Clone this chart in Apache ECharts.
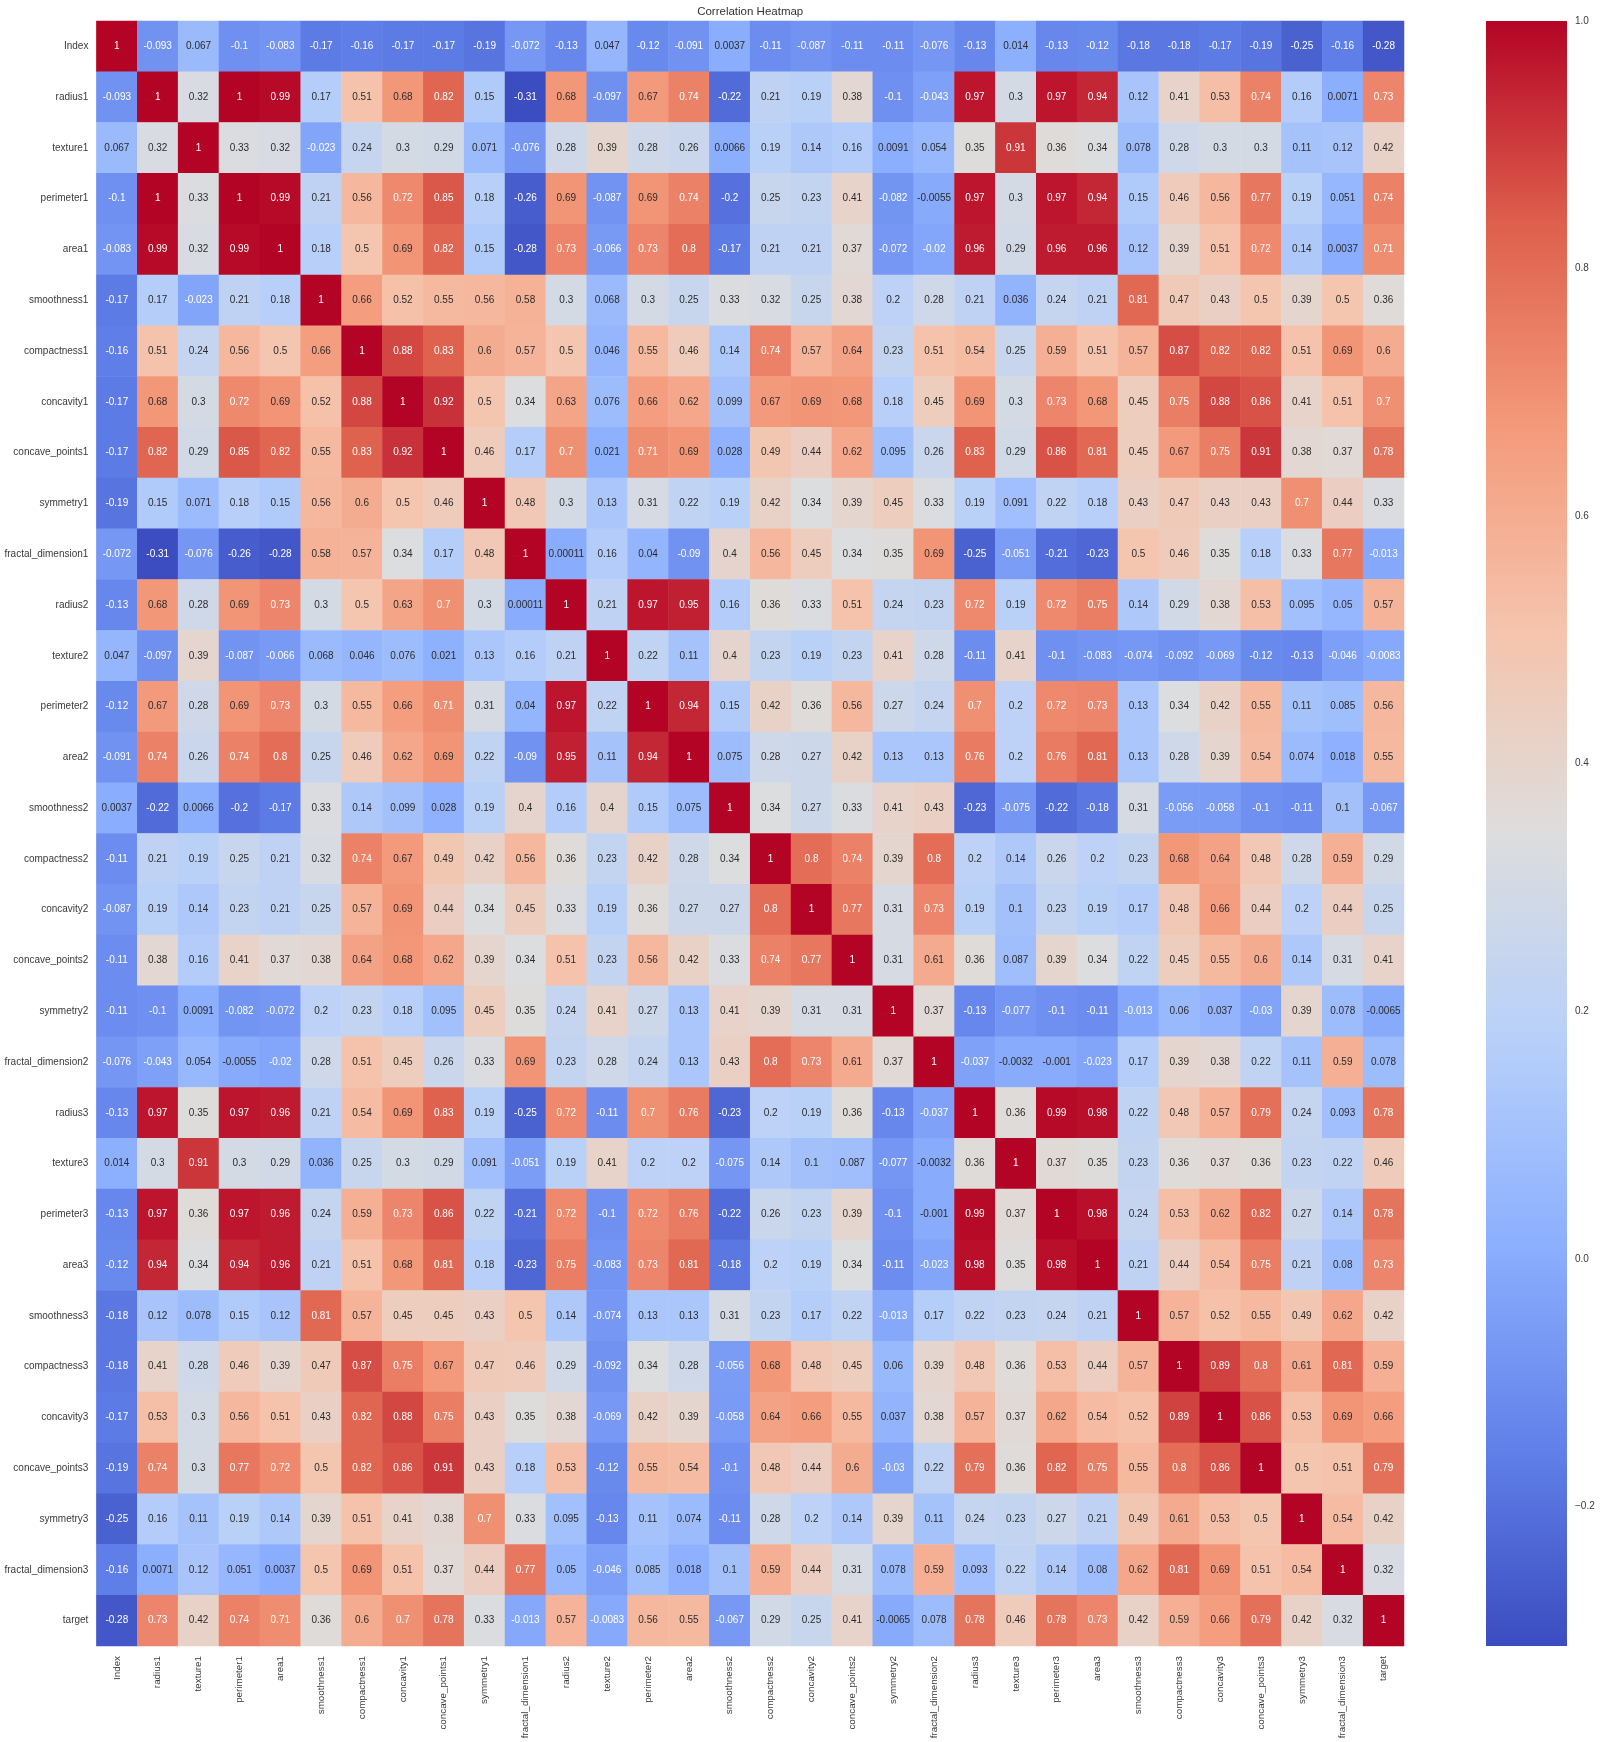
<!DOCTYPE html>
<html><head><meta charset="utf-8">
<script src="https://cdn.jsdelivr.net/npm/echarts@6/dist/echarts.min.js"></script>
<style>html,body{margin:0;padding:0;background:#fff}#c{width:1600px;height:1742px}</style>
</head><body><div id="c"></div>
<script>
const names=["Index","radius1","texture1","perimeter1","area1","smoothness1","compactness1","concavity1","concave_points1","symmetry1","fractal_dimension1","radius2","texture2","perimeter2","area2","smoothness2","compactness2","concavity2","concave_points2","symmetry2","fractal_dimension2","radius3","texture3","perimeter3","area3","smoothness3","compactness3","concavity3","concave_points3","symmetry3","fractal_dimension3","target"];
const rowIndex=[1,-0.093,0.067,-0.1,-0.083,-0.17,-0.16,-0.17,-0.17,-0.19,-0.072,-0.13,0.047,-0.12,-0.091,0.0037,-0.11,-0.087,-0.11,-0.11,-0.076,-0.13,0.014,-0.13,-0.12,-0.18,-0.18,-0.17,-0.19,-0.25,-0.16,-0.28];
const rowRadius1=[-0.093,1,0.32,1,0.99,0.17,0.51,0.68,0.82,0.15,-0.31,0.68,-0.097,0.67,0.74,-0.22,0.21,0.19,0.38,-0.1,-0.043,0.97,0.3,0.97,0.94,0.12,0.41,0.53,0.74,0.16,0.0071,0.73];
const rowTexture1=[0.067,0.32,1,0.33,0.32,-0.023,0.24,0.3,0.29,0.071,-0.076,0.28,0.39,0.28,0.26,0.0066,0.19,0.14,0.16,0.0091,0.054,0.35,0.91,0.36,0.34,0.078,0.28,0.3,0.3,0.11,0.12,0.42];
const rowPerimeter1=[-0.1,1,0.33,1,0.99,0.21,0.56,0.72,0.85,0.18,-0.26,0.69,-0.087,0.69,0.74,-0.2,0.25,0.23,0.41,-0.082,-0.0055,0.97,0.3,0.97,0.94,0.15,0.46,0.56,0.77,0.19,0.051,0.74];
const rowArea1=[-0.083,0.99,0.32,0.99,1,0.18,0.5,0.69,0.82,0.15,-0.28,0.73,-0.066,0.73,0.8,-0.17,0.21,0.21,0.37,-0.072,-0.02,0.96,0.29,0.96,0.96,0.12,0.39,0.51,0.72,0.14,0.0037,0.71];
const rowSmoothness1=[-0.17,0.17,-0.023,0.21,0.18,1,0.66,0.52,0.55,0.56,0.58,0.3,0.068,0.3,0.25,0.33,0.32,0.25,0.38,0.2,0.28,0.21,0.036,0.24,0.21,0.81,0.47,0.43,0.5,0.39,0.5,0.36];
const rowCompactness1=[-0.16,0.51,0.24,0.56,0.5,0.66,1,0.88,0.83,0.6,0.57,0.5,0.046,0.55,0.46,0.14,0.74,0.57,0.64,0.23,0.51,0.54,0.25,0.59,0.51,0.57,0.87,0.82,0.82,0.51,0.69,0.6];
const rowConcavity1=[-0.17,0.68,0.3,0.72,0.69,0.52,0.88,1,0.92,0.5,0.34,0.63,0.076,0.66,0.62,0.099,0.67,0.69,0.68,0.18,0.45,0.69,0.3,0.73,0.68,0.45,0.75,0.88,0.86,0.41,0.51,0.7];
const rowConcavePoints1=[-0.17,0.82,0.29,0.85,0.82,0.55,0.83,0.92,1,0.46,0.17,0.7,0.021,0.71,0.69,0.028,0.49,0.44,0.62,0.095,0.26,0.83,0.29,0.86,0.81,0.45,0.67,0.75,0.91,0.38,0.37,0.78];
const rowSymmetry1=[-0.19,0.15,0.071,0.18,0.15,0.56,0.6,0.5,0.46,1,0.48,0.3,0.13,0.31,0.22,0.19,0.42,0.34,0.39,0.45,0.33,0.19,0.091,0.22,0.18,0.43,0.47,0.43,0.43,0.7,0.44,0.33];
const rowFractal1=[-0.072,-0.31,-0.076,-0.26,-0.28,0.58,0.57,0.34,0.17,0.48,1,0.00011,0.16,0.04,-0.09,0.4,0.56,0.45,0.34,0.35,0.69,-0.25,-0.051,-0.21,-0.23,0.5,0.46,0.35,0.18,0.33,0.77,-0.013];
const rowRadius2=[-0.13,0.68,0.28,0.69,0.73,0.3,0.5,0.63,0.7,0.3,0.00011,1,0.21,0.97,0.95,0.16,0.36,0.33,0.51,0.24,0.23,0.72,0.19,0.72,0.75,0.14,0.29,0.38,0.53,0.095,0.05,0.57];
const rowTexture2=[0.047,-0.097,0.39,-0.087,-0.066,0.068,0.046,0.076,0.021,0.13,0.16,0.21,1,0.22,0.11,0.4,0.23,0.19,0.23,0.41,0.28,-0.11,0.41,-0.1,-0.083,-0.074,-0.092,-0.069,-0.12,-0.13,-0.046,-0.0083];
const rowPerimeter2=[-0.12,0.67,0.28,0.69,0.73,0.3,0.55,0.66,0.71,0.31,0.04,0.97,0.22,1,0.94,0.15,0.42,0.36,0.56,0.27,0.24,0.7,0.2,0.72,0.73,0.13,0.34,0.42,0.55,0.11,0.085,0.56];
const rowArea2=[-0.091,0.74,0.26,0.74,0.8,0.25,0.46,0.62,0.69,0.22,-0.09,0.95,0.11,0.94,1,0.075,0.28,0.27,0.42,0.13,0.13,0.76,0.2,0.76,0.81,0.13,0.28,0.39,0.54,0.074,0.018,0.55];
const rowSmoothness2=[0.0037,-0.22,0.0066,-0.2,-0.17,0.33,0.14,0.099,0.028,0.19,0.4,0.16,0.4,0.15,0.075,1,0.34,0.27,0.33,0.41,0.43,-0.23,-0.075,-0.22,-0.18,0.31,-0.056,-0.058,-0.1,-0.11,0.1,-0.067];
const rowCompactness2=[-0.11,0.21,0.19,0.25,0.21,0.32,0.74,0.67,0.49,0.42,0.56,0.36,0.23,0.42,0.28,0.34,1,0.8,0.74,0.39,0.8,0.2,0.14,0.26,0.2,0.23,0.68,0.64,0.48,0.28,0.59,0.29];
const rowConcavity2=[-0.087,0.19,0.14,0.23,0.21,0.25,0.57,0.69,0.44,0.34,0.45,0.33,0.19,0.36,0.27,0.27,0.8,1,0.77,0.31,0.73,0.19,0.1,0.23,0.19,0.17,0.48,0.66,0.44,0.2,0.44,0.25];
const rowConcavePoints2=[-0.11,0.38,0.16,0.41,0.37,0.38,0.64,0.68,0.62,0.39,0.34,0.51,0.23,0.56,0.42,0.33,0.74,0.77,1,0.31,0.61,0.36,0.087,0.39,0.34,0.22,0.45,0.55,0.6,0.14,0.31,0.41];
const rowSymmetry2=[-0.11,-0.1,0.0091,-0.082,-0.072,0.2,0.23,0.18,0.095,0.45,0.35,0.24,0.41,0.27,0.13,0.41,0.39,0.31,0.31,1,0.37,-0.13,-0.077,-0.1,-0.11,-0.013,0.06,0.037,-0.03,0.39,0.078,-0.0065];
const rowFractal2=[-0.076,-0.043,0.054,-0.0055,-0.02,0.28,0.51,0.45,0.26,0.33,0.69,0.23,0.28,0.24,0.13,0.43,0.8,0.73,0.61,0.37,1,-0.037,-0.0032,-0.001,-0.023,0.17,0.39,0.38,0.22,0.11,0.59,0.078];
const rowRadius3=[-0.13,0.97,0.35,0.97,0.96,0.21,0.54,0.69,0.83,0.19,-0.25,0.72,-0.11,0.7,0.76,-0.23,0.2,0.19,0.36,-0.13,-0.037,1,0.36,0.99,0.98,0.22,0.48,0.57,0.79,0.24,0.093,0.78];
const rowTexture3=[0.014,0.3,0.91,0.3,0.29,0.036,0.25,0.3,0.29,0.091,-0.051,0.19,0.41,0.2,0.2,-0.075,0.14,0.1,0.087,-0.077,-0.0032,0.36,1,0.37,0.35,0.23,0.36,0.37,0.36,0.23,0.22,0.46];
const rowPerimeter3=[-0.13,0.97,0.36,0.97,0.96,0.24,0.59,0.73,0.86,0.22,-0.21,0.72,-0.1,0.72,0.76,-0.22,0.26,0.23,0.39,-0.1,-0.001,0.99,0.37,1,0.98,0.24,0.53,0.62,0.82,0.27,0.14,0.78];
const rowArea3=[-0.12,0.94,0.34,0.94,0.96,0.21,0.51,0.68,0.81,0.18,-0.23,0.75,-0.083,0.73,0.81,-0.18,0.2,0.19,0.34,-0.11,-0.023,0.98,0.35,0.98,1,0.21,0.44,0.54,0.75,0.21,0.08,0.73];
const rowSmoothness3=[-0.18,0.12,0.078,0.15,0.12,0.81,0.57,0.45,0.45,0.43,0.5,0.14,-0.074,0.13,0.13,0.31,0.23,0.17,0.22,-0.013,0.17,0.22,0.23,0.24,0.21,1,0.57,0.52,0.55,0.49,0.62,0.42];
const rowCompactness3=[-0.18,0.41,0.28,0.46,0.39,0.47,0.87,0.75,0.67,0.47,0.46,0.29,-0.092,0.34,0.28,-0.056,0.68,0.48,0.45,0.06,0.39,0.48,0.36,0.53,0.44,0.57,1,0.89,0.8,0.61,0.81,0.59];
const rowConcavity3=[-0.17,0.53,0.3,0.56,0.51,0.43,0.82,0.88,0.75,0.43,0.35,0.38,-0.069,0.42,0.39,-0.058,0.64,0.66,0.55,0.037,0.38,0.57,0.37,0.62,0.54,0.52,0.89,1,0.86,0.53,0.69,0.66];
const rowConcavePoints3=[-0.19,0.74,0.3,0.77,0.72,0.5,0.82,0.86,0.91,0.43,0.18,0.53,-0.12,0.55,0.54,-0.1,0.48,0.44,0.6,-0.03,0.22,0.79,0.36,0.82,0.75,0.55,0.8,0.86,1,0.5,0.51,0.79];
const rowSymmetry3=[-0.25,0.16,0.11,0.19,0.14,0.39,0.51,0.41,0.38,0.7,0.33,0.095,-0.13,0.11,0.074,-0.11,0.28,0.2,0.14,0.39,0.11,0.24,0.23,0.27,0.21,0.49,0.61,0.53,0.5,1,0.54,0.42];
const rowFractal3=[-0.16,0.0071,0.12,0.051,0.0037,0.5,0.69,0.51,0.37,0.44,0.77,0.05,-0.046,0.085,0.018,0.1,0.59,0.44,0.31,0.078,0.59,0.093,0.22,0.14,0.08,0.62,0.81,0.69,0.51,0.54,1,0.32];
const rowTarget=[-0.28,0.73,0.42,0.74,0.71,0.36,0.6,0.7,0.78,0.33,-0.013,0.57,-0.0083,0.56,0.55,-0.067,0.29,0.25,0.41,-0.0065,0.078,0.78,0.46,0.78,0.73,0.42,0.59,0.66,0.79,0.42,0.32,1];
const colorTicks=[-0.2,0,0.2,0.4,0.6,0.8,1];
const vMin=-0.3127, vMax=1;
const matrix=[rowIndex,rowRadius1,rowTexture1,rowPerimeter1,rowArea1,rowSmoothness1,rowCompactness1,rowConcavity1,rowConcavePoints1,rowSymmetry1,rowFractal1,rowRadius2,rowTexture2,rowPerimeter2,rowArea2,rowSmoothness2,rowCompactness2,rowConcavity2,rowConcavePoints2,rowSymmetry2,rowFractal2,rowRadius3,rowTexture3,rowPerimeter3,rowArea3,rowSmoothness3,rowCompactness3,rowConcavity3,rowConcavePoints3,rowSymmetry3,rowFractal3,rowTarget];

const stops=[[59,76,192],[98,130,234],[141,176,254],[184,208,249],[221,221,221],[245,196,173],[244,154,123],[222,96,77],[180,4,38]];
const cmap=stops.map(c=>`rgb(${c.join(',')})`);
function lum(v){
  const p=Math.max(0,Math.min(1,(v-vMin)/(vMax-vMin)))*(stops.length-1);
  const i=Math.min(stops.length-2,Math.floor(p)),t=p-i;
  const rgb=stops[i].map((a,k)=>(a+(stops[i+1][k]-a)*t)/255);
  const lin=rgb.map(c=>c<=0.03928?c/12.92:Math.pow((c+0.055)/1.055,2.4));
  return 0.2126*lin[0]+0.7152*lin[1]+0.0722*lin[2];
}
const data=[];
matrix.forEach((row,y)=>row.forEach((v,x)=>{
  data.push({value:[x,y,v],label:{color:lum(v)>0.408?'#2b2b2b':'#ffffff'}});
}));
const G={l:96.4,t:21,w:1307.6,h:1625};
const sans='"Liberation Sans",Arial,sans-serif';
const chart=echarts.init(document.getElementById('c'),null,{renderer:'canvas',width:1600,height:1742});
chart.setOption({
  animation:false,
  backgroundColor:'#ffffff',
  title:{text:'Correlation Heatmap',left:G.l+G.w/2,top:6,padding:0,textAlign:'center',
    textStyle:{fontFamily:sans,fontSize:11.5,fontWeight:'normal',color:'#333'}},
  grid:[
    {left:G.l,top:G.t,width:G.w,height:G.h,containLabel:false,outerBoundsMode:'none'},
    {left:1486,top:G.t,width:81,height:G.h,containLabel:false,outerBoundsMode:'none'}
  ],
  xAxis:[
    {type:'category',gridIndex:0,data:names,position:'bottom',
      axisLine:{show:false},axisTick:{show:false},splitLine:{show:false},splitArea:{show:false},
      axisLabel:{interval:0,rotate:90,margin:10,fontFamily:sans,fontSize:9.8,color:'#3a3a3a',hideOverlap:false}},
    {type:'value',gridIndex:1,show:false,min:0,max:1}
  ],
  yAxis:[
    {type:'category',gridIndex:0,data:names,inverse:true,
      axisLine:{show:false},axisTick:{show:false},splitLine:{show:false},splitArea:{show:false},
      axisLabel:{interval:0,margin:8,fontFamily:sans,fontSize:10,color:'#3a3a3a',hideOverlap:false}},
    {type:'value',gridIndex:1,position:'right',min:vMin,max:vMax,
      axisLine:{show:false},splitLine:{show:false},
      axisTick:{show:true,length:4,customValues:colorTicks,lineStyle:{color:'#555',width:1}},
      axisLabel:{show:true,margin:8,customValues:colorTicks,fontFamily:sans,fontSize:10,color:'#3a3a3a',
        formatter:v=>v<0?'\u2212'+Math.abs(v).toFixed(1):v.toFixed(1)}}
  ],
  visualMap:{type:'continuous',show:false,min:vMin,max:vMax,seriesIndex:0,inRange:{color:cmap}},
  series:[
    {type:'heatmap',xAxisIndex:0,yAxisIndex:0,data:data,progressive:0,
      itemStyle:{borderWidth:0},
      label:{show:true,fontFamily:sans,fontSize:10,formatter:p=>String(p.value[2])},
      emphasis:{disabled:true}},
    {type:'custom',xAxisIndex:1,yAxisIndex:1,silent:true,clip:false,data:[[vMin,vMax]],
      encode:{y:[0,1]},
      renderItem:(params,api)=>{
        const a=api.coord([0,api.value(0)]), b=api.coord([1,api.value(1)]);
        return {type:'rect',shape:{x:a[0],y:b[1],width:b[0]-a[0],height:a[1]-b[1]},
          style:{fill:{type:'linear',x:0,y:1,x2:0,y2:0,global:false,
            colorStops:cmap.map((c,i)=>({offset:i/(cmap.length-1),color:c}))}}};
      }}
  ]
});
</script></body></html>
